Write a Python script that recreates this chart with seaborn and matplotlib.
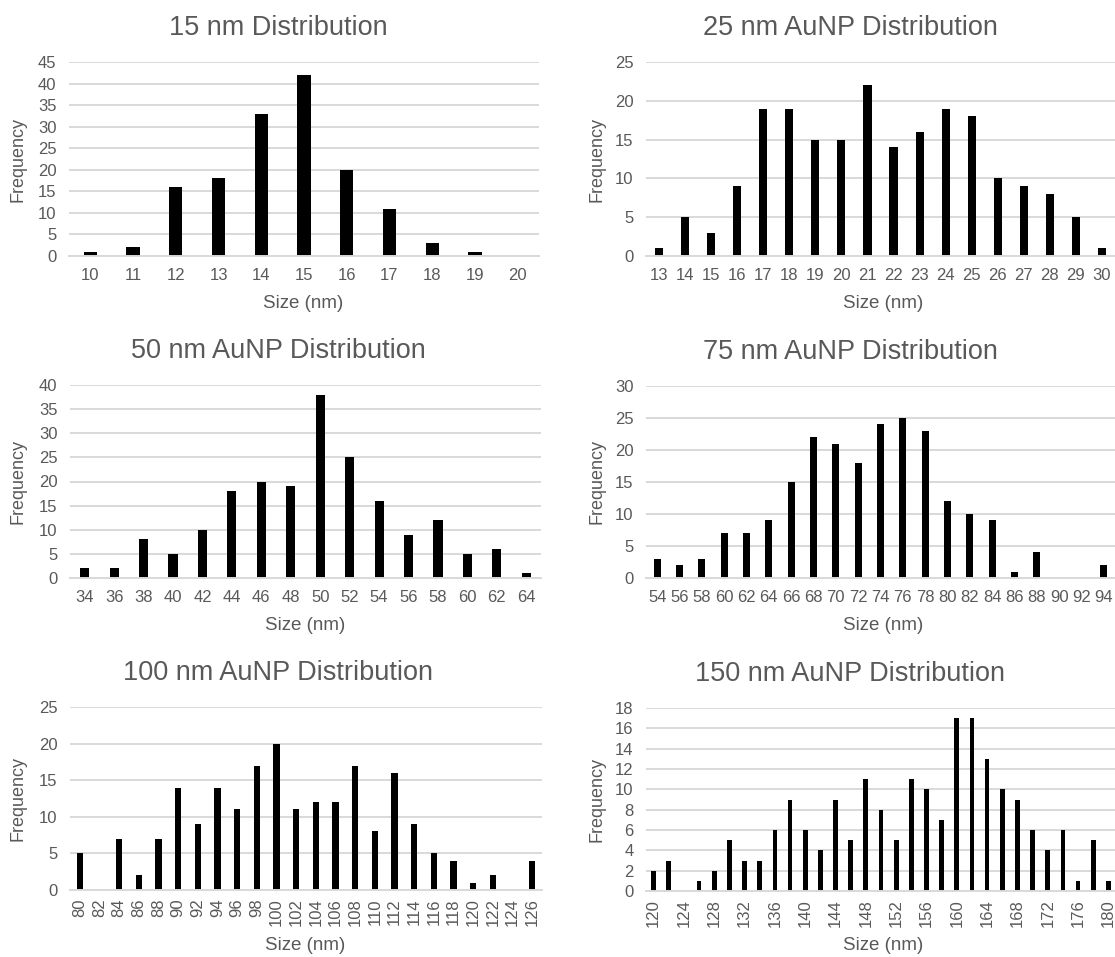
import matplotlib
matplotlib.use("Agg")
import matplotlib.pyplot as plt
import seaborn as sns

sns.set_theme(style="white")
plt.rcParams['font.family'] = ['Liberation Sans', 'DejaVu Sans']

# ---------------- data ----------------
sizes_15 = [10, 11, 12, 13, 14, 15, 16, 17, 18, 19, 20]
freq_15 = [1, 2, 16, 18, 33, 42, 20, 11, 3, 1, 0]

sizes_25 = list(range(13, 31))
freq_25 = [1, 5, 3, 9, 19, 19, 15, 15, 22, 14, 16, 19, 18, 10, 9, 8, 5, 1]

sizes_50 = list(range(34, 65, 2))
freq_50 = [2, 2, 8, 5, 10, 18, 20, 19, 38, 25, 16, 9, 12, 5, 6, 1]

sizes_75 = list(range(54, 95, 2))
freq_75 = [3, 2, 3, 7, 7, 9, 15, 22, 21, 18, 24, 25, 23, 12, 10, 9, 1, 4, 0, 0, 2]

sizes_100 = list(range(80, 127, 2))
freq_100 = [5, 0, 7, 2, 7, 14, 9, 14, 11, 17, 20, 11, 12, 12, 17, 8, 16, 9, 5, 4, 1, 2, 0, 4]

sizes_150 = list(range(120, 181, 2))
freq_150 = [2, 3, 0, 1, 2, 5, 3, 3, 6, 9, 6, 4, 9, 5, 11, 8, 5, 11, 10, 7,
            17, 17, 13, 10, 9, 6, 4, 6, 1, 5, 1]

titles = ["15 nm Distribution", "25 nm AuNP Distribution", "50 nm AuNP Distribution",
          "75 nm AuNP Distribution", "100 nm AuNP Distribution", "150 nm AuNP Distribution"]
ymaxes = [45, 25, 40, 30, 25, 18]
ysteps = [5, 5, 5, 5, 5, 2]

# ---------------- layout (pixels) ----------------
W, H = 1115, 957
fig = plt.figure(figsize=(W / 100, H / 100), dpi=100)
fig.patch.set_facecolor("white")

TXT = "#595959"
GRID = "#d9d9d9"

# (left, right, top, bottom) of plot area in pixels
boxes = [(69, 539, 62, 256), (646, 1115, 62, 256),
         (70, 541, 385, 578), (646, 1115, 386, 578),
         (70, 542, 707, 890), (646, 1116, 708, 891)]
title_pos = [(278, 35), (850, 35), (278, 358), (850, 359), (278, 680), (850, 681)]
xlabel_pos = [(303, 303), (883, 303), (305, 626), (883, 626), (305, 946), (883, 946)]
ylabel_x = [18, 597, 18, 597, 18, 597]

datasets = [(sizes_15, freq_15), (sizes_25, freq_25), (sizes_50, freq_50),
            (sizes_75, freq_75), (sizes_100, freq_100), (sizes_150, freq_150)]

for i, ((sx, fy), (l, r, t, b)) in enumerate(zip(datasets, boxes)):
    ax = fig.add_axes([l / W, 1 - b / H, (r - l) / W, (b - t) / H])
    labels = [str(s) for s in sx]
    sns.barplot(x=labels, y=fy, color="black", width=0.31, saturation=1,
                linewidth=0, ax=ax, order=labels)
    n = len(labels)
    ax.set_xlim(-0.5, n - 0.5)
    ax.set_ylim(0, ymaxes[i])
    ax.set_yticks(range(0, ymaxes[i] + 1, ysteps[i]))
    ax.yaxis.grid(True, color=GRID, linewidth=1.4)
    ax.set_axisbelow(True)
    for sp in ["top", "right", "left"]:
        ax.spines[sp].set_visible(False)
    ax.spines["bottom"].set_color(GRID)
    ax.spines["bottom"].set_linewidth(1.4)
    ax.tick_params(axis="both", length=0, colors=TXT, labelsize=12)
    ax.tick_params(axis="y", pad=9)
    ax.tick_params(axis="x", pad=9)
    if i == 4:
        ax.tick_params(axis="x", labelrotation=90, pad=6)
    if i == 5:
        ax.set_xticks(range(0, n, 2))
        ax.set_xticklabels(labels[::2])
        ax.tick_params(axis="x", labelrotation=90, pad=6)
    for lab in ax.get_xticklabels():
        lab.set_color(TXT)
    ax.set_xlabel("")
    ax.set_ylabel("")

    fig.text(title_pos[i][0] / W, 1 - title_pos[i][1] / H, titles[i],
             ha="center", va="baseline", fontsize=19.5, color=TXT)
    fig.text(xlabel_pos[i][0] / W, 1 - xlabel_pos[i][1] / H, "Size (nm)",
             ha="center", va="center", fontsize=13.5, color=TXT)
    fig.text(ylabel_x[i] / W, 1 - ((t + b) / 2) / H, "Frequency",
             ha="center", va="center", rotation=90, fontsize=13, color=TXT)

fig.savefig("out.png", dpi=100, facecolor="white")
